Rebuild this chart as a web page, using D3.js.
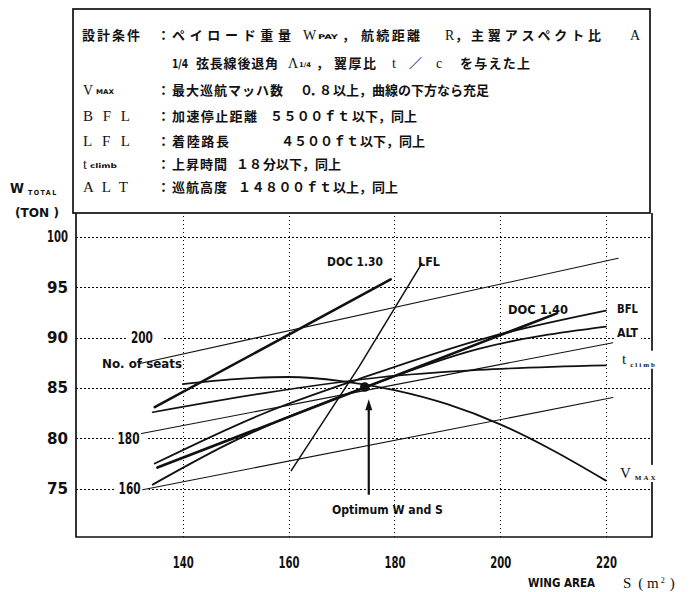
<!DOCTYPE html>
<html>
<head>
<meta charset="utf-8">
<script src="https://cdn.jsdelivr.net/npm/d3@7/dist/d3.min.js"></script>
<style>
  html, body { margin: 0; padding: 0; background: #fff; }
  svg { display: block; }
  .lbl { font-family: "DejaVu Sans Condensed", "DejaVu Sans", sans-serif; font-weight: bold; fill: #111; }
  .jp  { font-family: "Noto Sans CJK JP", sans-serif; font-weight: bold; fill: #111; }
  .ser { font-family: "Liberation Serif", "DejaVu Serif", serif; fill: #111; }
</style>
</head>
<body>
<svg id="chart" width="698" height="592"></svg>
<script>
'use strict';

/* ── Data ── */
const xTicks = [140, 160, 180, 200, 220];
const yTicks = [75, 80, 85, 90, 95, 100];

const doc130 = [[134.7, 83.1], [179.3, 95.8]];
const doc140 = [[135.2, 77.1], [210.6, 92.4]];
const bfl    = [[134.7, 77.5], [155.4, 82.5], [173.3, 85.9], [197.8, 90.05], [220, 92.7]];
const alt    = [[134.3, 75.4], [148.4, 79.4], [174, 85.0], [195.9, 88.9], [220, 91.1]];
const tclimb = [[134.3, 82.6], [155.4, 84.5], [177, 86.05], [195.9, 86.8], [220, 87.25]];
const vmax   = [[140, 85.4], [150, 85.9], [160, 86.1], [170, 85.7], [180, 84.8], [190, 83.4], [200, 81.4], [210, 78.8], [220, 75.8]];
const lfl    = [[160.5, 76.8], [173.3, 87.1], [185.2, 97.4]];

const seatLabels = ['200', '180', '160'];
const seatLabelRow = [90, 80, 75];
const seatLines = [
  [[131.9, 87.45], [222.3, 97.9]],
  [[132.2, 80.48], [221.3, 89.5]],
  [[132.4, 74.9], [221.3, 84.06]]
];

const optimum = [174.4, 85.1];
const arrowW = [74.4, 83.7];

/* ── Frame & scales ── */
const svg = d3.select('#chart');
const X0 = 76, X1 = 652, Y0 = 213, Y1 = 537;
const x = d3.scaleLinear().domain([120, 228.7]).range([77, X1]);
const y = d3.scaleLinear().domain([70.2, 102.4]).range([Y1, Y0]);

function txt(g, px, py, s, o = {}) {
  const t = g.append('text')
    .attr('x', px).attr('y', py).attr('dy', '0.35em')
    .attr('class', o.cls || 'lbl')
    .attr('font-size', o.size || 13)
    .text(s);
  if (o.anchor) t.attr('text-anchor', o.anchor);
  if (o.len) t.attr('textLength', o.len).attr('lengthAdjust', o.adj || 'spacingAndGlyphs');
  return t;
}

function whiteBg(t, padL = 2, padR = padL) {
  const b = t.node().getBBox();
  t.node().parentNode.insertBefore(
    d3.create('svg:rect')
      .attr('x', b.x - padL).attr('y', b.y).attr('width', b.width + padL + padR).attr('height', b.height)
      .attr('fill', '#fff').node(),
    t.node());
}

/* ── Grid via axes ── */
const yAxis = svg.append('g').attr('transform', `translate(${X0},0)`)
  .call(d3.axisLeft(y).tickValues(yTicks).tickSize(-(X1 - X0)).tickPadding(8));
const xAxis = svg.append('g').attr('transform', `translate(0,${Y1})`)
  .call(d3.axisBottom(x).tickValues(xTicks).tickSize(-(Y1 - Y0)).tickPadding(20));

[xAxis, yAxis].forEach(a => {
  a.select('.domain').remove();
  a.attr('font-family', null).attr('font-size', null);
  a.selectAll('.tick line')
    .attr('stroke', '#000').attr('stroke-width', 1)
    .attr('stroke-dasharray', '1.5,2.5').attr('shape-rendering', 'crispEdges');
  a.selectAll('.tick text').attr('class', 'lbl').attr('font-size', 15).attr('fill', '#111')
    .attr('textLength', 21).attr('lengthAdjust', 'spacingAndGlyphs');
});

/* ── Seat-number labels sit on the grid lines ── */
const ann = svg.append('g');
seatLabels.forEach((s, i) => {
  const px = i === 0 ? x(seatLines[i][0][0]) + 13 : x(seatLines[i][0][0]) - 2;
  const t = txt(ann, px, y(seatLabelRow[i]), s, { size: 15, anchor: 'end', len: 22 });
  whiteBg(t, 4, i === 0 ? 10 : 8);
});

/* ── Curves ── */
const straight = d3.line().x(d => x(d[0])).y(d => y(d[1]));
const smooth = d3.line().curve(d3.curveMonotoneX).x(d => x(d[0])).y(d => y(d[1]));

const curves = svg.append('g').attr('fill', 'none').attr('stroke', '#111').attr('stroke-linecap', 'round');
seatLines.forEach(p => curves.append('path').attr('d', straight(p)).attr('stroke-width', 1.1));
curves.append('path').attr('d', straight(lfl)).attr('stroke-width', 1.5);
curves.append('path').attr('d', smooth(tclimb)).attr('stroke-width', 1.7);
curves.append('path').attr('d', smooth(vmax)).attr('stroke-width', 1.8);
curves.append('path').attr('d', smooth(alt)).attr('stroke-width', 1.8);
curves.append('path').attr('d', smooth(bfl)).attr('stroke-width', 1.8);
curves.append('path').attr('d', straight(doc130)).attr('stroke-width', 2.6);
curves.append('path').attr('d', straight(doc140)).attr('stroke-width', 2.6);

/* optimum point and arrow */
svg.append('circle').attr('cx', x(optimum[0])).attr('cy', y(optimum[1])).attr('r', 4.8).attr('fill', '#111');
const ax = x(optimum[0]) + 4;
svg.append('line').attr('x1', ax).attr('x2', ax).attr('y1', y(arrowW[0])).attr('y2', y(arrowW[1]) + 6)
  .attr('stroke', '#111').attr('stroke-width', 2.2);
svg.append('path')
  .attr('d', `M${ax},${y(arrowW[1]) - 2} L${ax - 3.5},${y(arrowW[1]) + 9} L${ax + 3.5},${y(arrowW[1]) + 9} Z`)
  .attr('fill', '#111');

/* ── Frames ── */
const frame = svg.append('g').attr('fill', 'none').attr('stroke', '#111').attr('stroke-width', 1.7);
frame.append('rect').attr('x', 73).attr('y', 9).attr('width', 577).attr('height', Y0 - 9);
frame.append('path').attr('d', `M${X0},${Y0} V${Y1} H${X1} V${Y0}`);

/* ── Curve labels ── */
const lab = svg.append('g');
txt(lab, 102, 363, 'No. of seats', { size: 13, len: 80 });
txt(lab, 327, 261, 'DOC 1.30', { size: 13, len: 56 });
txt(lab, 418, 261, 'LFL', { size: 13, len: 22 });
txt(lab, 508, 309, 'DOC 1.40', { size: 13, len: 60 });
whiteBg(txt(lab, x(220) + 11, y(bfl[bfl.length - 1][1]) - 2, 'BFL', { size: 13, len: 21 }), 3);
whiteBg(txt(lab, x(220) + 11, y(alt[alt.length - 1][1]) + 6, 'ALT', { size: 13, len: 21 }), 3);

const tcl = lab.append('text').attr('x', 622).attr('y', y(tclimb[tclimb.length - 1][1]) - 7).attr('dy', '0.35em').attr('class', 'ser').attr('font-size', 15);
tcl.append('tspan').text('t');
tcl.append('tspan').attr('font-size', 7).attr('font-weight', 'bold').attr('dx', 4).attr('dy', 3).attr('letter-spacing', 2).text('climb');
whiteBg(tcl, 3);

const vm = lab.append('text').attr('x', 620).attr('y', y(vmax[vmax.length - 1][1]) - 8).attr('dy', '0.35em').attr('class', 'ser').attr('font-size', 15);
vm.append('tspan').text('V');
vm.append('tspan').attr('font-size', 7).attr('font-weight', 'bold').attr('dx', 4).attr('dy', 2).attr('letter-spacing', 2).text('MAX');
whiteBg(vm, 3);

txt(lab, 332, 510, 'Optimum W and S', { size: 12, len: 111 });

/* axis titles */
const wt = lab.append('text').attr('x', 10).attr('y', 188).attr('dy', '0.35em').attr('class', 'lbl').attr('font-size', 14);
wt.append('tspan').text('W');
wt.append('tspan').attr('font-size', 7).attr('dx', 4).attr('dy', 2).attr('letter-spacing', 1.5).text('TOTAL');
txt(lab, 15, 213, '(TON )', { size: 12, len: 44 });
txt(lab, 528, 583, 'WING AREA', { size: 12, len: 67 });
const sm = lab.append('text').attr('x', 623).attr('y', 583).attr('dy', '0.35em').attr('class', 'ser').attr('font-size', 15);
sm.append('tspan').text('S');
sm.append('tspan').attr('dx', 7).text('( m');
sm.append('tspan').attr('font-size', 8).attr('dy', -5).attr('dx', 2).text('2');
sm.append('tspan').attr('dy', 5).attr('dx', 5).text(')');

/* ── Conditions box ── */
const box = svg.append('g');
const rows = [35, 63, 90, 116, 141, 164, 187];
const J = (px, row, s, len) => txt(box, px, rows[row], s, { cls: 'jp', size: 13, len, adj: 'spacing' });
const L = (px, row, s, size = 14, len) => txt(box, px, rows[row], s, { cls: 'ser', size, len, adj: 'spacing' });
const S = (px, row, s, len) => txt(box, px, rows[row] + 2, s, { cls: 'lbl', size: 6.5, len });

J(82, 0, '設計条件', 58);
for (let r = 0; r < 7; r++) if (r !== 1) J(157, r, '：');
J(172, 0, 'ペイロード重量', 119);
L(303, 0, 'W'); S(318, 0, 'PAY', 20);
J(342, 0, '，');
J(361, 0, '航続距離', 59);
L(445, 0, 'R');
J(455, 0, '，');
J(471, 0, '主翼アスペクト比', 130);
L(630, 0, 'A');

txt(box, 172, rows[1], '1/4', { cls: 'lbl', size: 13, len: 16 });
J(196, 1, '弦長線後退角', 82);
L(288, 1, 'Λ'); S(299, 1, '1/4', 12);
J(316, 1, '，');
J(334, 1, '翼厚比', 42);
L(392, 1, 't');
J(409, 1, '／');
L(436, 1, 'c');
J(460, 1, 'を与えた上', 70);

L(83, 2, 'V'); S(96, 2, 'MAX', 18);
J(172, 2, '最大巡航マッハ数', 111);
J(300, 2, '０．８', 32);
J(333, 2, '以上，曲線の下方なら充足');

L(83, 3, 'B F L', 15, 47);
J(172, 3, '加速停止距離', 85);
J(270, 3, '５５００ｆｔ', 80);
J(352, 3, '以下，同上');

L(83, 4, 'L F L', 15, 47);
J(172, 4, '着陸路長', 57);
J(281, 4, '４５００ｆｔ', 78);
J(360, 4, '以下，同上');

L(83, 5, 't', 14); S(90, 5, 'climb', 27);
J(172, 5, '上昇時間', 55);
J(236, 5, '１８', 26);
J(263, 5, '分以下，同上');

L(83, 6, 'A L T', 15, 45);
J(172, 6, '巡航高度', 55);
J(238, 6, '１４８００ｆｔ', 94);
J(333, 6, '以上，同上');
</script>
</body>
</html>
